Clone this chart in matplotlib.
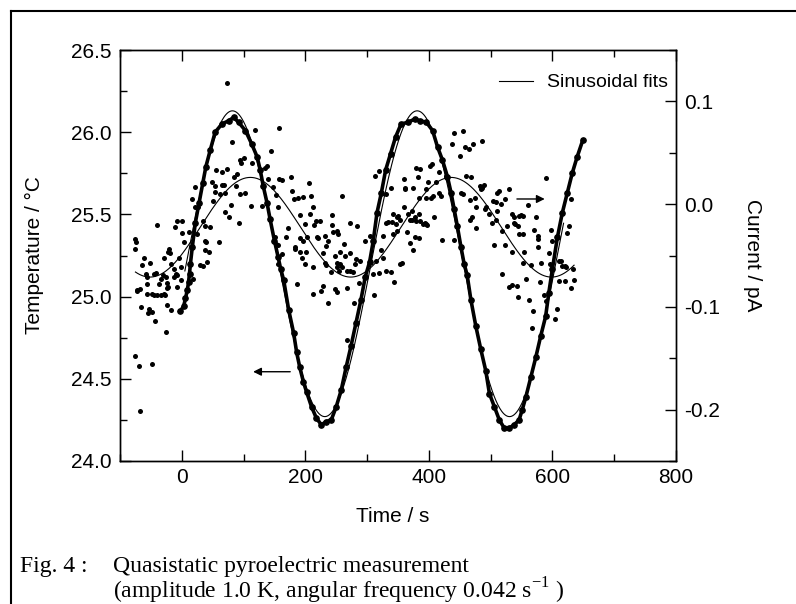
import numpy as np
import matplotlib
matplotlib.use('Agg')
import matplotlib.pyplot as plt
from matplotlib.lines import Line2D
from matplotlib.ticker import MultipleLocator

plt.rcParams['font.family'] = ['Liberation Sans', 'DejaVu Sans']
plt.rcParams['axes.unicode_minus'] = False

# temperature (left axis)
temp_t = [-3, 3, 6, 9, 11, 12.5, 14, 17, 22, 28, 34, 39, 46, 54, 65, 76, 84, 92, 103, 113,
          122, 127, 132, 138, 143, 150, 156, 160, 165, 173, 181, 186, 191, 197, 202, 210,
          218, 226, 234, 242, 250, 258, 266, 274, 282, 290, 297, 304, 310, 316, 323, 330,
          338, 346, 355, 366, 377, 385, 396, 406, 414, 422, 430, 436, 441, 446, 452, 457,
          462, 468, 476, 484, 492, 498, 506, 514, 522, 530, 538, 546, 551, 557, 565, 573,
          581, 589, 594, 600, 608, 616, 624, 632, 640, 649]
temp_val = [24.91, 24.94, 24.99, 25.04, 25.09, 25.14, 25.20, 25.30, 25.45, 25.57, 25.69, 25.79,
            25.89, 26.00, 26.05, 26.07, 26.09, 26.06, 26.01, 25.93, 25.85, 25.77, 25.67, 25.57,
            25.47, 25.34, 25.24, 25.17, 25.10, 24.92, 24.78, 24.66, 24.57, 24.48, 24.42, 24.33,
            24.26, 24.22, 24.24, 24.25, 24.33, 24.43, 24.57, 24.70, 24.84, 24.98, 25.12, 25.21,
            25.34, 25.51, 25.63, 25.77, 25.87, 25.97, 26.05, 26.06, 26.08, 26.07, 26.06, 26.01,
            25.91, 25.83, 25.73, 25.63, 25.53, 25.43, 25.30, 25.20, 25.13, 24.98, 24.82, 24.68,
            24.55, 24.41, 24.33, 24.25, 24.20, 24.20, 24.22, 24.25, 24.31, 24.39, 24.51, 24.63,
            24.76, 24.88, 25.02, 25.17, 25.36, 25.51, 25.63, 25.75, 25.85, 25.95]

# pyroelectric current (right axis)
cur_t = [-76, -76, -75, -74, -72, -72, -69, -68, -67, -66, -64, -61, -58, -57, -57, -57, -54,
         -53, -52, -49, -48, -48, -45, -45, -44, -42, -40, -40, -37, -34, -34, -31, -29, -29,
         -27, -25, -25, -24, -24, -24, -22, -22, -21, -19, -18, -17, -13, -13, -11, -10, -7,
         -7, -7, -5, -2, -2, 0, 1, 4, 12, 17, 18, 21, 21, 25, 26, 30, 34, 35, 38, 38, 38, 39,
         41, 44, 46, 49, 51, 53, 53, 55, 60, 62, 65, 65, 69, 70, 70, 73, 73, 76, 79, 81, 84,
         87, 90, 93, 95, 95, 96, 100, 102, 112, 113, 118, 130, 134, 138, 140, 145, 147, 151,
         152, 153, 156, 156, 156, 157, 158, 162, 163, 168, 172, 177, 178, 182, 183, 183, 186,
         188, 191, 191, 191, 194, 196, 197, 200, 200,
         201, 202, 206, 208, 209, 212, 212, 213, 214, 217, 219, 221, 224, 225, 228, 229, 232,
         232, 234, 234, 237, 237, 241, 243, 243, 244, 248, 248, 251, 251, 251, 251, 253, 255,
         256, 256, 259, 260, 262, 264, 267, 267, 267, 272, 272, 272, 277, 279, 280, 282, 284,
         287, 288,
         296, 304, 310, 311, 312, 315, 320, 320, 323, 326, 326, 331, 331, 331, 334, 339, 339,
         341, 342, 342, 343, 347, 348, 348, 350, 354, 354, 357, 359, 359, 361, 362, 364, 366,
         369, 369, 372, 373, 375, 375, 377, 377, 379, 379, 383, 384, 384, 384, 385, 386, 390,
         393, 395, 395, 396, 397, 398,
         401, 404, 405, 406, 409, 412, 416, 417, 420, 422, 427, 438, 440, 441, 450, 452, 455,
         456, 459, 460, 465, 466, 467, 468, 470, 472, 474, 476, 476, 482, 484, 486, 486, 490,
         491, 493, 498, 502, 503, 506, 509, 509, 511, 511, 514, 516, 518, 519, 523, 523, 527,
         529, 530, 534, 535, 535, 537, 538, 539, 543, 544, 545, 546, 546, 549, 552, 553, 553,
         554, 557, 560, 562, 565, 567, 569, 570, 573, 576, 576, 577, 580, 581, 587, 589, 589,
         595, 596, 597, 599, 604, 608, 611, 611, 614, 615, 620, 621, 622, 624, 627, 630, 630,
         634, 635]
cur_val = [-0.044, -0.034, -0.148, -0.037, -0.084, -0.085, -0.158, -0.201, -0.083, -0.100,
           -0.059, -0.052, -0.068, -0.071, -0.078, -0.087, -0.106, -0.102, -0.057, -0.105,
           -0.156, -0.087, -0.068, -0.088, -0.114, -0.067, -0.020, -0.088, -0.078, -0.073,
           -0.088, -0.069, -0.052, -0.087, -0.088, -0.124, -0.071, -0.098, -0.077, -0.082,
           -0.081, -0.047, -0.044, -0.048, -0.058, -0.103, -0.071, -0.063, -0.022, -0.068,
           -0.016, -0.081, -0.069, -0.052, -0.061, -0.074, -0.016, -0.028, -0.037, -0.027,
           0.005, -0.073, 0.017, -0.003, -0.029, -0.003, -0.059, -0.060, -0.016, -0.021,
           -0.036, -0.045, -0.037, -0.056, -0.047, -0.022, 0.022, 0.003, 0.018, 0.012, 0.033,
           -0.037, 0.010, 0.031, 0.019, 0.019, 0.011, -0.008, 0.118, 0.034, -0.013, -0.001,
           0.060, 0.026, 0.018, 0.029, -0.018, 0.043, 0.010, 0.040, 0.045, 0.011, -0.002, 0.040,
           0.072, -0.002, 0.035, 0.037, 0.024, 0.052, 0.017, -0.032, -0.039, 0.009, -0.003,
           -0.040, -0.058, 0.074, 0.024, -0.049, 0.023, -0.032, -0.023, 0.026, 0.013, 0.005,
           -0.044, -0.042, -0.078, 0.006, -0.011, -0.033, -0.047, -0.052, 0.007, -0.036,
           -0.058, -0.019,
           -0.047, -0.032, 0.021, -0.010, 0.008, -0.061, -0.087, -0.003, -0.020, -0.016,
           -0.032, -0.033, -0.016, -0.085, -0.080, -0.048, -0.057, -0.031, -0.041, -0.059,
           -0.096, -0.036, -0.066, -0.011, -0.020, -0.027, -0.050, -0.083, -0.057, -0.061,
           -0.026, -0.086, -0.029, -0.065, -0.058, -0.047, -0.061, 0.008, -0.039, -0.050,
           -0.065, -0.082, -0.132, -0.018, -0.065, -0.048, -0.066, -0.096, -0.058, -0.053,
           -0.021, -0.077, -0.055,
           -0.036, -0.031, -0.068, -0.088, 0.027, -0.055, 0.032, -0.067, -0.045, -0.031,
           -0.052, -0.065, -0.018, 0.010, -0.017, -0.066, 0.016, -0.017, -0.010, -0.029,
           -0.076, -0.019, -0.013, -0.026, -0.012, -0.015, -0.058, -0.057, 0.024, -0.003,
           0.016, 0.015, -0.027, -0.010, -0.038, -0.015, -0.007, -0.015, -0.045, 0.016, -0.032,
           -0.013, 0.035, -0.016, 0.026, 0.006, -0.010, -0.033, -0.016, 0.034, -0.019, -0.018,
           0.015, 0.006, -0.019, -0.020, 0.022,
           0.037, 0.006, 0.039, 0.008, -0.013, 0.022, 0.031, 0.011, 0.008, -0.035, 0.027, 0.059,
           -0.035, 0.069, 0.047, 0.011, 0.010, 0.071, 0.056, 0.027, 0.054, 0.004, -0.015, 0.026,
           -0.013, 0.059, 0.006, -0.003, -0.023, 0.018, 0.015, 0.061, 0.016, 0.019, -0.005,
           -0.003, -0.010, -0.018, 0.003, -0.040, -0.015, 0.002, 0.011, -0.007, 0.013, 0.000,
           -0.068, -0.026, 0.005, -0.040, -0.021, -0.081, 0.015, -0.079, -0.047, -0.010,
           -0.013, -0.018, -0.019, -0.080, -0.090, -0.021, -0.029, -0.012, -0.011, -0.057,
           -0.012, -0.029, -0.047, -0.073, -0.001, -0.093, -0.059, -0.121, -0.104, -0.025,
           -0.013, -0.031, -0.042, -0.034, -0.076, -0.057, -0.088, 0.025, -0.094, -0.048,
           -0.058, -0.025, -0.036, -0.112, -0.102, -0.075, -0.055, -0.055, -0.060, -0.075,
           -0.060, -0.061, -0.028, -0.021, 0.005, -0.082, -0.063, -0.074]

# sinusoidal fit parameters (offset, amplitude, period, time of maximum, range)
temp_fit = dict(offset=25.20, amp=0.93, period=299.0, t_max=82.0, t_range=(5, 618))
cur_fit = dict(offset=-0.0225, amp=0.0485, period=325.0, t_max=111.0, t_range=(-75, 635))


def fit_curve(p):
    t = np.linspace(p['t_range'][0], p['t_range'][1], 600)
    return t, p['offset'] + p['amp'] * np.cos(2 * np.pi * (t - p['t_max']) / p['period'])


W, H = 796, 604
fig = plt.figure(figsize=(W / 100, H / 100), dpi=100)
ax = fig.add_axes([120 / W, 1 - 461 / H, 556 / W, 411 / H])
ax2 = ax.twinx()

ax.plot(temp_t, temp_val, color='black', lw=2.6, marker='o', ms=3.8, zorder=3)
tf, yf = fit_curve(temp_fit)
ax.plot(tf, yf, color='black', lw=0.8, zorder=4)

ax2.scatter(cur_t, cur_val, s=13, color='black', linewidths=0, zorder=3)
cf, cyf = fit_curve(cur_fit)
ax2.plot(cf, cyf, color='black', lw=0.8, zorder=4)

ax.set_xlim(-100, 800)
ax.set_ylim(24.0, 26.5)
ax2.set_ylim(-0.25, 0.15)

ax.xaxis.set_major_locator(MultipleLocator(200))
ax.xaxis.set_minor_locator(MultipleLocator(100))
ax.yaxis.set_major_locator(MultipleLocator(0.5))
ax.yaxis.set_minor_locator(MultipleLocator(0.25))
ax2.yaxis.set_major_locator(MultipleLocator(0.1))
ax2.yaxis.set_minor_locator(MultipleLocator(0.05))
ax.yaxis.set_major_formatter(matplotlib.ticker.FormatStrFormatter('%.1f'))
ax2.yaxis.set_major_formatter(matplotlib.ticker.FormatStrFormatter('%.1f'))

ax.tick_params(which='both', direction='in', top=True, right=False, labelsize=15, width=1)
ax.tick_params(which='major', length=8)
ax.tick_params(which='minor', length=5)
ax.tick_params(axis='x', pad=5)
ax.tick_params(axis='y', pad=6)
ax2.tick_params(which='both', direction='in', labelsize=15, width=1, pad=6)
ax2.tick_params(which='major', length=8)
ax2.tick_params(which='minor', length=5)
for a in (ax, ax2):
    for s in a.spines.values():
        s.set_linewidth(1.0)

ax.set_xlabel('Time / s', fontsize=15)
ax.xaxis.set_label_coords(0.49, -0.134)
ax.xaxis.label.set_va('center')
ax.set_ylabel('Temperature / \u00b0C', fontsize=15)
ax.yaxis.set_label_coords(-0.153, 0.5)
ax.yaxis.label.set_va('center')
ax2.set_ylabel('Current / pA', fontsize=15, rotation=270)
ax2.yaxis.set_label_coords(1.137, 0.5)
ax2.yaxis.label.set_va('center')
ax2.yaxis.label.set_ha('center')

ax.annotate('', xy=(111, 24.543), xytext=(180, 24.543),
            arrowprops=dict(arrowstyle='-|>', color='black', lw=1, mutation_scale=12))
ax2.annotate('', xy=(592, 0.005), xytext=(538, 0.005),
             arrowprops=dict(arrowstyle='-|>', color='black', lw=1, mutation_scale=12))

handle = Line2D([], [], color='black', lw=0.8)
ax2.legend([handle], ['Sinusoidal fits'], loc='upper right', frameon=False, fontsize=14,
           bbox_to_anchor=(0.9856, 0.942), borderaxespad=0, borderpad=0,
           handlelength=1.75, handletextpad=0.7)

# border of the figure box (left and top edges visible)
fig.add_artist(Line2D([11 / W, 11 / W], [0, 1 - 11 / H], color='black', lw=1.5))
fig.add_artist(Line2D([11 / W, 1], [1 - 11 / H, 1 - 11 / H], color='black', lw=1.5))

cap_font = dict(family='Liberation Serif', fontsize=17, va='baseline')
fig.text(20 / W, 1 - 572 / H, 'Fig. 4 :', **cap_font)
fig.text(113 / W, 1 - 572 / H, 'Quasistatic pyroelectric measurement', **cap_font)
fig.text(113 / W, 1 - 598 / H,
         '(amplitude 1.0 K, angular frequency 0.042 s$^{\\mathregular{-1}}$ )', **cap_font)

fig.savefig('out.png', dpi=100)
